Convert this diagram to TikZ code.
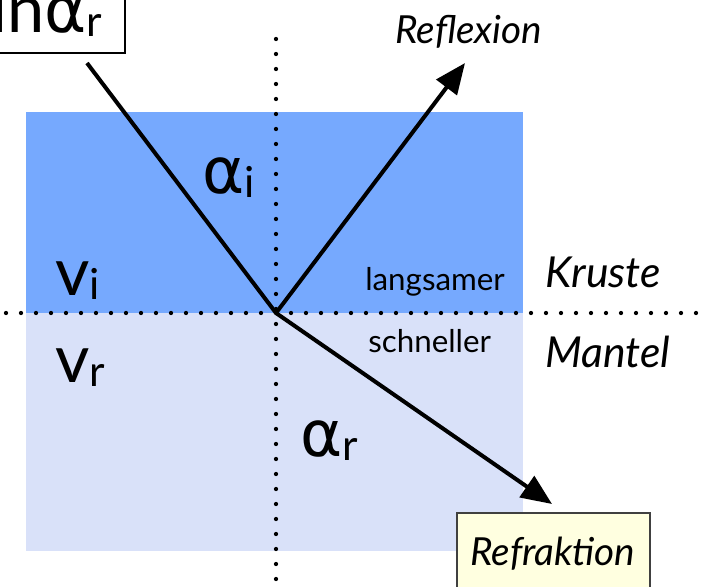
\documentclass[tikz,border=0pt]{standalone}
\usepackage{fontspec}
\setmainfont{Lato}
\newfontfamily\greekfont{DejaVu Sans}
\usetikzlibrary{arrows.meta}
\definecolor{crust}{HTML}{76A9FE}
\definecolor{mantle}{HTML}{D9E1F9}
\definecolor{note}{HTML}{FFFFE0}
\newcommand{\bigsym}[2]{{\fontsize{50}{50}\selectfont #1}{\fontsize{32}{32}\selectfont\raisebox{-3pt}{#2}}}
\newcommand{\alphsym}{{\greekfont\fontsize{48}{48}\selectfont α}}
\tikzset{
  ray/.style={line width=3pt, -{Triangle[length=23pt,width=19pt]}},
  plainray/.style={line width=3pt},
  dotline/.style={line width=3.2pt, line cap=round, dash pattern=on 0pt off 11.25pt},
  lbl/.style={anchor=base west, inner sep=0pt},
  small/.style={lbl, font=\fontsize{23.5}{23.5}\selectfont},
  layer/.style={lbl, font=\fontsize{32}{32}\selectfont\itshape},
  wave/.style={lbl, font=\fontsize{29}{29}\selectfont\itshape}
}
\begin{document}
\begin{tikzpicture}[x=0.75pt,y=-0.75pt]
\useasboundingbox (0,0) rectangle (706,586);
\fill[crust] (26,112) rectangle (523,313);
\fill[mantle] (26,313) rectangle (523,551);
% dotted axes
\coordinate (O) at (276,313);
\coordinate (hl) at (6,313);
\coordinate (hr) at (712,313);
\coordinate (vt) at (276,39);
\coordinate (vb) at (276,600);
\draw[dotline] (hl) -- (hr);
\draw[dotline] (vt) -- (vb);
% rays
\coordinate (src) at (87,63);
\coordinate (refl) at (465,63);
\coordinate (refr) at (552,504);
\draw[plainray] (src) -- (O);
\draw[ray] (O) -- (refl);
\draw[ray] (O) -- (refr);
% symbols
\node[lbl] (ai) at (202,193) {\bigsym{\alphsym}{i}};
\node[lbl] (vi) at (55,295) {\bigsym{v}{i}};
\node[lbl] (vr) at (55,382) {\bigsym{v}{r}};
\node[lbl] (ar) at (300,456) {\bigsym{\alphsym}{r}};
% texts
\node[small] (slow) at (365,290) {langsamer};
\node[small] (fast) at (368,352) {schneller};
\node[layer] (kr) at (545,287) {Kruste};
\node[layer] (ma) at (545,367) {Mantel};
\node[wave] (rfx) at (395,43) {Reflexion};
% top-left box
\draw[line width=1.5pt, fill=white] (-40,-20) rectangle (125,53);
\node[lbl] (snell) at (44,32) {\llap{\fontsize{50}{50}\selectfont sin}\bigsym{\alphsym}{r}};
% refraction box
\draw[line width=1.5pt, draw=black!75, fill=note] (457,513) rectangle (650,610);
\node[wave] (rfk) at (470,565) {Refraktion};
\end{tikzpicture}
\end{document}
